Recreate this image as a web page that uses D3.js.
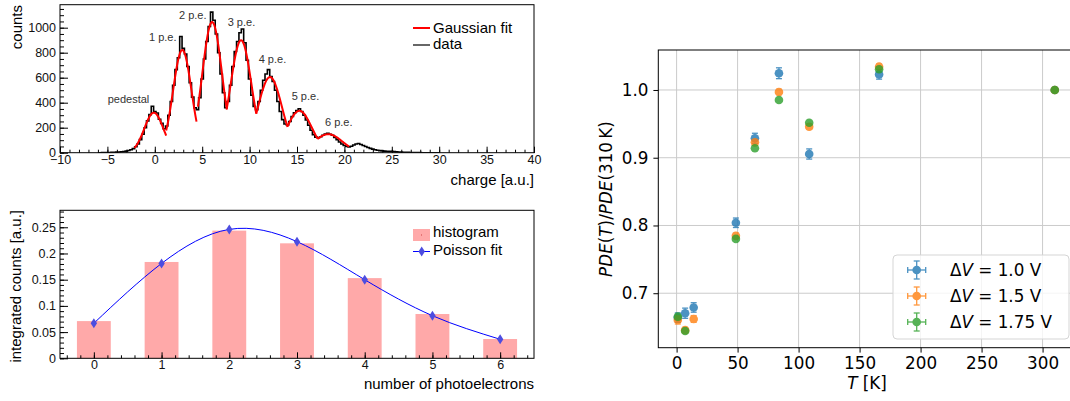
<!DOCTYPE html>
<html>
<head>
<meta charset="utf-8">
<script src="https://cdn.jsdelivr.net/npm/d3@7"></script>
<style>
  body { margin: 0; background: #fff; }
  svg text { font-family: "Liberation Sans", Arial, sans-serif; }
  .mpl text { font-family: "DejaVu Sans", sans-serif; }
</style>
</head>
<body>
<div class="canvas"></div>
<script>
// ---- charge spectrum (0.25 a.u. bins, first bin at -6) ----
const binStart = -6;
const binWidth = 0.25;
const dataCounts = [0,0,1,1,2,2,3,4,5,6,8,10,13,18,24,33,48,70,105,148,200,255,305,372,330,318,268,235,192,214,
  300,410,540,665,760,930,835,790,690,560,445,360,345,440,590,750,890,1010,1125,1060,950,800,630,480,360,410,
  540,690,810,890,960,990,880,740,590,460,370,345,410,500,580,630,665,610,570,500,410,330,265,230,222,250,290,
  320,338,352,330,300,262,220,180,145,125,120,128,140,150,156,148,140,122,104,86,70,58,50,47,52,62,70,74,66,58,
  50,42,35,29,24,20,17,15,13,12,11,12,9,7,6,5,4,3,3,2,2,1,1,1,0,0,0,0,0,0,0,0];

// gaussian fit of each peak (mean, amplitude, sigma, fit range)
const fitMean  = [-0.1, 2.9, 6.05, 9.1, 12.15, 15.25, 18.3];
const fitAmp   = [320, 822, 1045, 900, 605, 335, 148];
const fitSigma = [1.0, 0.97, 1.04, 1.1, 1.26, 1.3, 1.48];
const fitLo    = [-2.15, 1.2, 4.55, 7.6, 10.7, 14.0, 17.15];
const fitHi    = [1.2, 4.4, 7.6, 10.7, 14.0, 17.15, 20.5];

const peakLabels      = ['pedestal', '1 p.e.', '2 p.e.', '3 p.e.', '4 p.e.', '5 p.e.', '6 p.e.'];
const peakLabelCharge = [-4.97, -0.61, 2.55, 7.69, 10.96, 14.44, 17.95];
const peakLabelCounts = [398, 894, 1066, 1014, 714, 422, 214];

// ---- photoelectron distribution ----
const nPE = [0, 1, 2, 3, 4, 5, 6];
const histValues    = [0.071, 0.1838, 0.2436, 0.2194, 0.153, 0.0845, 0.0368];
const poissonValues = [0.0668, 0.181, 0.246, 0.2226, 0.150, 0.0813, 0.0363];

// ---- relative PDE vs temperature ----
const seriesNames  = ['1.0', '1.5', '1.75'];
const seriesColors = ['#1f77b4', '#ff7f0e', '#2ca02c'];
const tempV10 = [1, 7, 14, 48.6, 64.2, 83.9, 108.7, 166, 310];
const pdeV10  = [0.664, 0.6705, 0.679, 0.804, 0.9287, 1.0247, 0.9055, 1.023, 1.0];
const errV10  = [0.007, 0.0075, 0.007, 0.007, 0.0074, 0.008, 0.0075, 0.007, 0.0];
const tempV15 = [1, 7, 14, 48.6, 64.2, 83.9, 108.7, 166, 310];
const pdeV15  = [0.6606, 0.6455, 0.662, 0.7847, 0.9227, 0.997, 0.9458, 1.0344, 1.0];
const errV15  = [0.006, 0.004, 0.005, 0.004, 0.004, 0.004, 0.004, 0.004, 0.0];
const tempV175 = [1, 7, 48.6, 64.2, 83.9, 108.7, 166, 310];
const pdeV175  = [0.6654, 0.6443, 0.7802, 0.9139, 0.9852, 0.9517, 1.0306, 1.0];
const errV175  = [0.004, 0.003, 0.003, 0.003, 0.003, 0.003, 0.003, 0.0];
const tempErr = 1;

const svg = d3.select('.canvas')
  .append('svg')
    .attr('width', 1070)
    .attr('height', 401);

// ROOT-style frame with inward ticks
function rootAxes(x, y, xMajor, xMinor, yMajor, yMinor, xFmt, yFmt) {
  const [x0, x1] = x.range();
  const [yb, yt] = y.range();
  const g = svg.append('g');

  const bottomMinor = g.append('g').attr('transform', `translate(0,${yb})`)
    .call(d3.axisBottom(x).tickValues(xMinor).tickSize(-3).tickFormat(''));
  const bottomMajor = g.append('g').attr('transform', `translate(0,${yb})`)
    .call(d3.axisBottom(x).tickValues(xMajor).tickSize(-6).tickPadding(2).tickFormat(xFmt));
  const leftMinor = g.append('g').attr('transform', `translate(${x0},0)`)
    .call(d3.axisLeft(y).tickValues(yMinor).tickSize(-4).tickFormat(''));
  const leftMajor = g.append('g').attr('transform', `translate(${x0},0)`)
    .call(d3.axisLeft(y).tickValues(yMajor).tickSize(-8).tickPadding(4).tickFormat(yFmt));

  [bottomMinor, bottomMajor, leftMinor, leftMajor].forEach(a => {
    a.select('.domain').remove();
    a.attr('font-family', null).attr('font-size', 12.5);
    a.selectAll('line').attr('stroke', '#000');
    a.selectAll('text').attr('fill', '#111');
  });

  g.append('rect')
    .attr('x', x0).attr('y', yt)
    .attr('width', x1 - x0).attr('height', yb - yt)
    .attr('fill', 'none').attr('stroke', '#000').attr('stroke-width', 1);
}

// ================= top left: charge spectrum =================
const xq = d3.scaleLinear().domain([-10, 40]).range([60, 534]);
const yq = d3.scaleLinear().domain([0, 1184]).range([152.7, 4.7]);

svg.append('clipPath').attr('id', 'clipTop')
  .append('rect').attr('x', 60).attr('y', 4.7).attr('width', 474).attr('height', 148);

const spectrum = svg.append('g').attr('clip-path', 'url(#clipTop)');

const dataPts = dataCounts.map((c, i) => [binStart + i * binWidth, c]);
spectrum.append('path')
  .datum(dataPts)
  .attr('fill', 'none')
  .attr('stroke', '#000')
  .attr('stroke-width', 1.6)
  .attr('d', d3.line().x(d => xq(d[0])).y(d => yq(d[1])).curve(d3.curveStep));

const gaussLine = d3.line().x(d => xq(d[0])).y(d => yq(d[1]));
fitMean.forEach((m, i) => {
  const step = (fitHi[i] - fitLo[i]) / 60;
  const pts = d3.range(fitLo[i], fitHi[i] + step / 2, step)
    .map(q => [q, fitAmp[i] * Math.exp(-((q - m) ** 2) / (2 * fitSigma[i] ** 2))]);
  spectrum.append('path')
    .datum(pts)
    .attr('fill', 'none')
    .attr('stroke', '#ff0000')
    .attr('stroke-width', 2)
    .attr('d', gaussLine);
});

svg.append('g').selectAll('text')
  .data(peakLabels)
  .enter().append('text')
    .attr('x', (d, i) => xq(peakLabelCharge[i]))
    .attr('y', (d, i) => yq(peakLabelCounts[i]))
    .attr('font-size', 11)
    .attr('fill', '#333')
    .text(d => d);

rootAxes(xq, yq,
  d3.range(-10, 41, 5), d3.range(-10, 41, 1),
  d3.range(0, 1001, 200), d3.range(0, 1151, 50),
  d3.format('d'), d3.format('d'));

svg.append('text')
  .attr('transform', 'translate(21.7,5) rotate(-90)')
  .attr('text-anchor', 'end')
  .attr('font-size', 15)
  .text('counts');
svg.append('text')
  .attr('x', 534).attr('y', 185)
  .attr('text-anchor', 'end')
  .attr('font-size', 15)
  .text('charge [a.u.]');

// legend
const legTop = svg.append('g');
legTop.append('line').attr('x1', 413).attr('x2', 430).attr('y1', 28).attr('y2', 28)
  .attr('stroke', '#ff0000').attr('stroke-width', 2);
legTop.append('line').attr('x1', 413).attr('x2', 430).attr('y1', 45).attr('y2', 45)
  .attr('stroke', '#000').attr('stroke-width', 1.2);
legTop.append('text').attr('x', 433).attr('y', 32.5).attr('font-size', 15).text('Gaussian fit');
legTop.append('text').attr('x', 433).attr('y', 49).attr('font-size', 15).text('data');

// ================= bottom left: photoelectron counts =================
const xn = d3.scaleLinear().domain([-0.5, 6.5]).range([60, 534]);
const yn = d3.scaleLinear().domain([0, 0.2824]).range([358.3, 210.3]);

svg.append('g').selectAll('rect')
  .data(histValues)
  .enter().append('rect')
    .attr('x', (d, i) => xn(nPE[i] - 0.25))
    .attr('width', xn(0.5) - xn(0))
    .attr('y', d => yn(d))
    .attr('height', d => yn(0) - yn(d))
    .attr('fill', '#ffa9a9');

svg.append('path')
  .datum(poissonValues)
  .attr('fill', 'none')
  .attr('stroke', '#0000ff')
  .attr('stroke-width', 1)
  .attr('d', d3.line().x((d, i) => xn(nPE[i])).y(d => yn(d)).curve(d3.curveNatural));

const diamond = 'M0,-5L3.2,0L0,5L-3.2,0Z';
svg.append('g').selectAll('path')
  .data(poissonValues)
  .enter().append('path')
    .attr('transform', (d, i) => `translate(${xn(nPE[i])},${yn(d)})`)
    .attr('d', diamond)
    .attr('fill', '#4d4de0');

rootAxes(xn, yn,
  nPE, d3.range(-0.4, 6.5, 0.2).map(v => +v.toFixed(1)),
  d3.range(0, 0.251, 0.05).map(v => +v.toFixed(2)), d3.range(0, 0.281, 0.01).map(v => +v.toFixed(2)),
  d3.format('d'), d => String(+d.toFixed(2)));

svg.append('text')
  .attr('transform', 'translate(20.5,210) rotate(-90)')
  .attr('text-anchor', 'end')
  .attr('font-size', 15)
  .text('integrated counts [a.u.]');
svg.append('text')
  .attr('x', 534).attr('y', 388.5)
  .attr('text-anchor', 'end')
  .attr('font-size', 15)
  .text('number of photoelectrons');

const legBot = svg.append('g');
legBot.append('rect').attr('x', 413).attr('y', 229).attr('width', 17).attr('height', 12)
  .attr('fill', '#ffa9a9');
legBot.append('rect').attr('x', 421).attr('y', 234.5).attr('width', 1).attr('height', 1).attr('fill', '#c44');
legBot.append('line').attr('x1', 413).attr('x2', 430).attr('y1', 251.5).attr('y2', 251.5)
  .attr('stroke', '#0000ff').attr('stroke-width', 1);
legBot.append('path').attr('transform', 'translate(421.7,251.5)').attr('d', diamond).attr('fill', '#4d4de0');
legBot.append('text').attr('x', 433).attr('y', 237).attr('font-size', 15).text('histogram');
legBot.append('text').attr('x', 433).attr('y', 255).attr('font-size', 15).text('Poisson fit');

// ================= right: PDE(T)/PDE(310 K) =================
const mpl = svg.append('g').attr('class', 'mpl');

const xt = d3.scaleLinear().domain([-15, 327]).range([658.3, 1075.5]);
const yp = d3.scaleLinear().domain([0.6196, 1.059]).range([347.7, 50]);
const tTicks = d3.range(0, 301, 50);
const pTicks = [0.7, 0.8, 0.9, 1.0];
const mplFont = 16.8;

// grid
mpl.append('g').selectAll('line.gx')
  .data(tTicks).enter().append('line')
    .attr('x1', d => xt(d)).attr('x2', d => xt(d))
    .attr('y1', 50).attr('y2', 347.7)
    .attr('stroke', '#cbcbcb').attr('stroke-width', 1);
mpl.append('g').selectAll('line.gy')
  .data(pTicks).enter().append('line')
    .attr('x1', 658.3).attr('x2', 1075.5)
    .attr('y1', d => yp(d)).attr('y2', d => yp(d))
    .attr('stroke', '#cbcbcb').attr('stroke-width', 1);

const xAxisR = mpl.append('g').attr('transform', 'translate(0,347.7)')
  .call(d3.axisBottom(xt).tickValues(tTicks).tickSize(4.9).tickPadding(4.9).tickSizeOuter(0));
const yAxisR = mpl.append('g').attr('transform', 'translate(658.3,0)')
  .call(d3.axisLeft(yp).tickValues(pTicks).tickSize(4.9).tickPadding(4.9).tickFormat(d3.format('.1f')));
[xAxisR, yAxisR].forEach(a => {
  a.select('.domain').remove();
  a.attr('font-family', null).attr('font-size', mplFont);
  a.selectAll('line').attr('stroke', '#000').attr('stroke-width', 1);
  a.selectAll('text').attr('fill', '#000');
});

mpl.append('rect')
  .attr('x', 658.3).attr('y', 50)
  .attr('width', 1075.5 - 658.3).attr('height', 297.7)
  .attr('fill', 'none').attr('stroke', '#000').attr('stroke-width', 1);

const series = [
  { t: tempV10, v: pdeV10, e: errV10 },
  { t: tempV15, v: pdeV15, e: errV15 },
  { t: tempV175, v: pdeV175, e: errV175 }
];

series.forEach((s, k) => {
  const pts = s.t.map((t, i) => ({ t: t, v: s.v[i], e: s.e[i] }));
  const g = mpl.append('g').attr('opacity', 0.8);
  const c = seriesColors[k];
  const pt = g.selectAll('g').data(pts).enter().append('g');
  pt.append('line')
    .attr('x1', d => xt(d.t)).attr('x2', d => xt(d.t))
    .attr('y1', d => yp(d.v - d.e)).attr('y2', d => yp(d.v + d.e))
    .attr('stroke', c).attr('stroke-width', 1.3);
  pt.append('line')
    .attr('x1', d => xt(d.t) - 3).attr('x2', d => xt(d.t) + 3)
    .attr('y1', d => yp(d.v - d.e)).attr('y2', d => yp(d.v - d.e))
    .attr('stroke', c).attr('stroke-width', 1.3);
  pt.append('line')
    .attr('x1', d => xt(d.t) - 3).attr('x2', d => xt(d.t) + 3)
    .attr('y1', d => yp(d.v + d.e)).attr('y2', d => yp(d.v + d.e))
    .attr('stroke', c).attr('stroke-width', 1.3);
  pt.append('line')
    .attr('x1', d => xt(d.t - tempErr)).attr('x2', d => xt(d.t + tempErr))
    .attr('y1', d => yp(d.v)).attr('y2', d => yp(d.v))
    .attr('stroke', c).attr('stroke-width', 1.3);
  pt.append('circle')
    .attr('cx', d => xt(d.t)).attr('cy', d => yp(d.v))
    .attr('r', 4.3)
    .attr('fill', c);
});

// axis labels
mpl.append('text')
  .attr('x', 867).attr('y', 389)
  .attr('text-anchor', 'middle')
  .attr('font-size', mplFont)
  .call(t => {
    t.append('tspan').attr('font-style', 'italic').text('T');
    t.append('tspan').text(' [K]');
  });

mpl.append('text')
  .attr('transform', 'translate(612,199) rotate(-90)')
  .attr('text-anchor', 'middle')
  .attr('font-size', mplFont)
  .call(t => {
    t.append('tspan').attr('font-style', 'italic').text('PDE');
    t.append('tspan').text('(');
    t.append('tspan').attr('font-style', 'italic').text('T');
    t.append('tspan').text(')/');
    t.append('tspan').attr('font-style', 'italic').text('PDE');
    t.append('tspan').text('(310\u2009K)');
  });

// legend
const legR = mpl.append('g');
legR.append('rect')
  .attr('x', 893).attr('y', 255).attr('width', 176).attr('height', 84)
  .attr('rx', 4)
  .attr('fill', '#fff').attr('fill-opacity', 0.8)
  .attr('stroke', '#d5d5d5').attr('stroke-width', 1);

seriesNames.forEach((name, k) => {
  const cy = 270 + k * 26;
  const cx = 916.7;
  const c = seriesColors[k];
  const h = legR.append('g').attr('opacity', 0.8);
  h.append('line').attr('x1', cx - 9).attr('x2', cx + 9).attr('y1', cy).attr('y2', cy)
    .attr('stroke', c).attr('stroke-width', 1.3);
  h.append('line').attr('x1', cx).attr('x2', cx).attr('y1', cy - 9).attr('y2', cy + 9)
    .attr('stroke', c).attr('stroke-width', 1.3);
  h.append('line').attr('x1', cx - 3).attr('x2', cx + 3).attr('y1', cy - 9).attr('y2', cy - 9)
    .attr('stroke', c).attr('stroke-width', 1.3);
  h.append('line').attr('x1', cx - 3).attr('x2', cx + 3).attr('y1', cy + 9).attr('y2', cy + 9)
    .attr('stroke', c).attr('stroke-width', 1.3);
  h.append('line').attr('x1', cx - 9).attr('x2', cx - 9).attr('y1', cy - 3).attr('y2', cy + 3)
    .attr('stroke', c).attr('stroke-width', 1.3);
  h.append('line').attr('x1', cx + 9).attr('x2', cx + 9).attr('y1', cy - 3).attr('y2', cy + 3)
    .attr('stroke', c).attr('stroke-width', 1.3);
  h.append('circle').attr('cx', cx).attr('cy', cy).attr('r', 4.3).attr('fill', c);

  legR.append('text')
    .attr('x', 950).attr('y', cy)
    .attr('dy', '0.35em')
    .attr('font-size', mplFont)
    .call(t => {
      t.append('tspan').text('\u0394');
      t.append('tspan').attr('font-style', 'italic').text('V');
      t.append('tspan').text(` = ${name} V`);
    });
});
</script>
</body>
</html>
